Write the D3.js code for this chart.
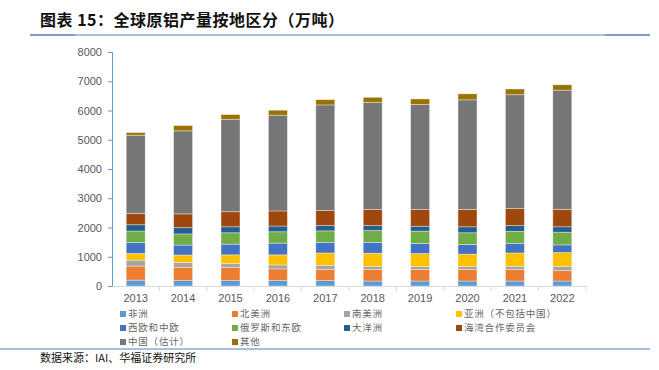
<!DOCTYPE html>
<html>
<head>
<meta charset="utf-8">
<script src="https://cdn.jsdelivr.net/npm/d3@7"></script>
<style>
  body { margin: 0; background: #fff; }
  svg { display: block; }
</style>
</head>
<body>
<div id="chart"></div>
<script>
// data (万吨)
const years = ['2013', '2014', '2015', '2016', '2017', '2018', '2019', '2020', '2021', '2022'];
const seriesNames = ['非洲', '北美洲', '南美洲', '亚洲（不包括中国）', '西欧和中欧', '俄罗斯和东欧', '大洋洲', '海湾合作委员会', '中国（估计）', '其他'];
const africa      = [200, 185, 185, 185, 185, 170, 170, 170, 170, 170];
const northAmerica = [480, 455, 445, 400, 375, 390, 390, 390, 390, 355];
const southAmerica = [205, 160, 135, 135, 150, 115, 105, 105, 115, 150];
const asiaExChina = [230, 260, 300, 345, 420, 445, 445, 425, 455, 470];
const westEurope  = [375, 340, 365, 400, 355, 365, 345, 330, 330, 260];
const russiaEast  = [390, 380, 390, 390, 400, 410, 420, 400, 410, 435];
const oceania     = [215, 215, 205, 195, 180, 170, 170, 205, 195, 185];
const gcc         = [390, 470, 515, 515, 515, 550, 570, 595, 580, 595];
const china       = [2670, 2840, 3160, 3275, 3610, 3665, 3595, 3745, 3895, 4075];
const other       = [90, 180, 160, 170, 180, 170, 185, 205, 195, 185];
const yTicks = [0, 1000, 2000, 3000, 4000, 5000, 6000, 7000, 8000];

const colours = ['#5B9BD5', '#ED7D31', '#A5A5A5', '#FFC000', '#4472C4', '#70AD47', '#255E91', '#9E480E', '#767676', '#997300'];
const allSeries = [africa, northAmerica, southAmerica, asiaExChina, westEurope, russiaEast, oceania, gcc, china, other];

const width = 659;
const height = 370;
const plot = { left: 112, right: 586, top: 52, bottom: 286 };

const table = years.map((y, i) => {
    const row = { year: y };
    seriesNames.forEach((name, k) => { row[name] = allSeries[k][i]; });
    return row;
});
const stacked = d3.stack().keys(seriesNames)(table);

const xScale = d3.scaleBand()
                    .domain(years)
                    .range([plot.left, plot.right]);
const yScale = d3.scaleLinear()
                    .domain([0, 8000])
                    .range([plot.bottom, plot.top]);

const svg = d3.select('#chart')
                .append('svg')
                    .attr('width', width)
                    .attr('height', height);

// title
svg.append('text')
    .attr('x', 40)
    .attr('y', 26)
    .style('font-family', '"Noto Sans CJK SC", sans-serif')
    .style('font-size', '16px')
    .style('font-weight', 'bold')
    .style('letter-spacing', '0.5px')
    .attr('fill', '#111')
    .text('图表 15：全球原铝产量按地区分（万吨）');

// rule under title
svg.append('line')
    .attr('x1', 30).attr('x2', 650)
    .attr('y1', 35).attr('y2', 35)
    .attr('stroke', '#8EA9D8').attr('stroke-width', 1.5);
svg.append('line')
    .attr('x1', 30).attr('x2', 75)
    .attr('y1', 35).attr('y2', 35)
    .attr('stroke', '#6F8FC7').attr('stroke-width', 1.5);
svg.append('line')
    .attr('x1', 605).attr('x2', 650)
    .attr('y1', 35).attr('y2', 35)
    .attr('stroke', '#6F8FC7').attr('stroke-width', 1.5);

// bars
const barW = xScale.bandwidth() * 0.4;
svg.append('g')
    .selectAll('g')
    .data(stacked)
    .enter()
        .append('g')
            .attr('fill', (d, k) => colours[k])
        .selectAll('rect')
        .data((d) => d)
        .enter()
            .append('rect')
                .attr('x', (d) => xScale(d.data.year) + (xScale.bandwidth() - barW) / 2)
                .attr('y', (d) => yScale(d[1]))
                .attr('width', barW)
                .attr('height', (d) => yScale(d[0]) - yScale(d[1]))
                .attr('stroke', 'rgba(255,255,255,0.45)')
                .attr('stroke-width', 0.8);

// y-axis
const yAxis = svg.append('g')
    .attr('transform', `translate(${plot.left}, 0)`)
    .call(d3.axisLeft(yScale).tickValues(yTicks).tickSize(4).tickPadding(6).tickFormat(d3.format('d')));
yAxis.select('.domain').attr('stroke', '#5B9BD5');
yAxis.selectAll('.tick line').attr('stroke', '#5B9BD5');
yAxis.selectAll('text')
    .style('font-family', '"Liberation Sans", Arial, sans-serif')
    .style('font-size', '11px')
    .attr('fill', '#595959');

// x-axis
const xAxis = svg.append('g')
    .attr('transform', `translate(0, ${plot.bottom})`)
    .call(d3.axisBottom(xScale).tickSize(0).tickPadding(8));
xAxis.select('.domain').attr('stroke', '#D9D9D9');
xAxis.selectAll('text')
    .style('font-family', '"Liberation Sans", Arial, sans-serif')
    .style('font-size', '11px')
    .attr('fill', '#595959');
xAxis.selectAll('.sep')
    .data(years.slice(1).concat(['end']))
    .enter()
        .append('line')
            .attr('x1', (d, i) => xScale(years[0]) + xScale.bandwidth() * (i + 1))
            .attr('x2', (d, i) => xScale(years[0]) + xScale.bandwidth() * (i + 1))
            .attr('y1', 0).attr('y2', 5)
            .attr('stroke', '#D9D9D9');

// legend
const legendCols = [120, 232, 344, 456];
const legendRows = [314, 328, 342];
const legend = svg.append('g')
    .selectAll('g')
    .data(seriesNames)
    .enter()
        .append('g')
            .attr('transform', (d, i) => `translate(${legendCols[i % 4]}, ${legendRows[Math.floor(i / 4)]})`);
legend.append('rect')
    .attr('x', 0).attr('y', -3)
    .attr('width', 6).attr('height', 6)
    .attr('fill', (d, i) => colours[i]);
legend.append('text')
    .attr('x', 8)
    .attr('dy', '0.35em')
    .style('font-family', '"Noto Sans CJK SC", sans-serif')
    .style('font-size', '9.5px')
    .style('letter-spacing', '0.8px')
    .attr('fill', '#666')
    .text((d) => d);

// bottom rule and source
svg.append('line')
    .attr('x1', 0).attr('x2', 650)
    .attr('y1', 349).attr('y2', 349)
    .attr('stroke', '#8EA9D8').attr('stroke-width', 1.5);
svg.append('text')
    .attr('x', 40)
    .attr('y', 362)
    .style('font-family', '"Noto Sans CJK SC", sans-serif')
    .style('font-size', '11px')
    .attr('fill', '#111')
    .text('数据来源：IAI、华福证券研究所');
</script>
</body>
</html>
